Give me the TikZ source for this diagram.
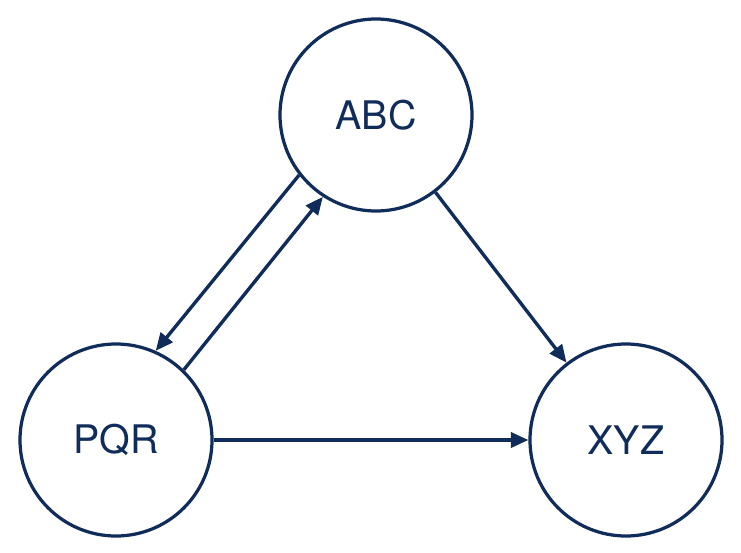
\documentclass[tikz,border=0pt]{standalone}
\usepackage{fontspec}
\setmainfont{TeX Gyre Heros}
\usepackage{xcolor}
\usetikzlibrary{arrows.meta}
\definecolor{navy}{RGB}{16,44,90}

\begin{document}
\begin{tikzpicture}[
  party/.style={draw=navy,circle,line width=2.3pt,fill=white,minimum size=4.8cm,text=navy,font=\fontsize{28}{32}\selectfont},
  arr/.style={-{Triangle[length=0.44cm,width=0.38cm]},draw=navy,line width=2.4pt},
]
  \useasboundingbox (0,0) rectangle (18.525,-13.825);

  % Parties
  \node[party] (abc) at (9.4,-2.875) {ABC};
  \node[party] (pqr) at (2.9,-11.0)  {PQR};
  \node[party] (xyz) at (15.65,-11.0) {XYZ};

  % Arrows
  \draw[arr] (abc.218) -- (pqr.66);
  \draw[arr] (pqr.46) -- (abc.237);
  \draw[arr] (abc) -- (xyz);
  \draw[arr] (pqr) -- (xyz);
\end{tikzpicture}
\end{document}
